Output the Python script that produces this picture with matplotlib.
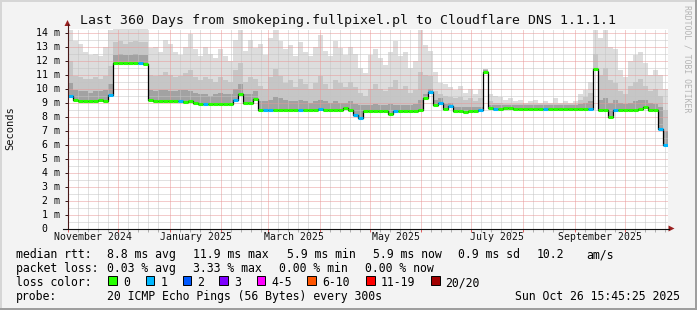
import matplotlib
matplotlib.use("Agg")
import matplotlib.pyplot as plt
import matplotlib.dates as mdates
from matplotlib.patches import Polygon, Rectangle
from matplotlib.lines import Line2D
from datetime import datetime, timedelta
import numpy as np

plt.rcParams['font.family'] = ['DejaVu Sans Mono']

W, H, DPI = 697, 310, 100

# ---------------- data ----------------
title = "Last 360 Days from smokeping.fullpixel.pl to Cloudflare DNS 1.1.1.1"
start = datetime(2024, 10, 31, 15, 45, 25)
end = datetime(2025, 10, 26, 15, 45, 25)
bin_days = 3

median_ms = [9.45, 9.15, 9.1, 9.1, 9.1, 9.1, 9.2, 9.1, 9.55,
             11.8, 11.8, 11.8, 11.8, 11.8, 11.8, 11.75,
             9.15,
             9.1, 9.1, 9.1, 9.1, 9.1, 9.1, 9.05, 9.1, 9.0,
             8.9, 8.9, 8.9, 8.9, 8.9, 8.9, 8.9, 9.2,
             9.6, 8.95, 8.95, 9.25,
             8.45, 8.45, 8.45, 8.5, 8.5, 8.5, 8.45, 8.45, 8.45, 8.45, 8.45, 8.45, 8.55, 8.5, 8.45, 8.45, 8.45, 8.6, 8.45,
             8.1, 7.9, 8.4, 8.4, 8.4, 8.4, 8.4, 8.2, 8.4, 8.4, 8.4, 8.4, 8.4, 8.45,
             9.3, 9.75, 8.85, 8.95, 8.55, 8.75,
             8.4, 8.4, 8.35, 8.4, 8.4, 8.45,
             11.2,
             8.6, 8.55, 8.55, 8.6, 8.6, 8.55, 8.55, 8.55, 8.55, 8.55, 8.55, 8.55, 8.55, 8.55, 8.55, 8.55, 8.55, 8.55,
             8.55, 8.55, 8.55,
             11.4,
             8.5, 8.5, 8.0, 8.45, 8.5, 8.5, 8.5, 8.5, 8.55, 8.65, 8.5, 8.5,
             7.1, 5.95]

smoke_top = [14.2, 13.4, 13.2, 12.6, 12.4, 12.5, 12.3, 13.0, 14.2,
             14.3, 14.3, 14.3, 14.3, 14.3, 14.3, 14.3,
             12.9,
             13.0, 12.6, 13.5, 13.2, 12.6, 12.4, 13.0, 13.9, 12.8,
             12.3, 13.0, 12.5, 12.2, 12.8, 12.3, 12.0, 13.5,
             14.2, 12.7, 13.5, 12.9,
             13.2, 12.4, 13.6, 14.2, 13.4, 12.8, 13.1, 12.3, 13.3, 12.6, 12.3, 13.0, 13.8, 12.7, 12.3, 13.4, 12.9, 12.4, 13.0,
             12.5, 11.5, 11.1, 12.4, 12.8, 12.2, 11.7, 12.6, 13.4, 12.3, 12.6, 11.5, 12.0, 14.2,
             13.1, 12.7, 11.2, 10.4, 10.3, 10.1,
             9.9, 10.2, 9.7, 10.0, 9.6, 10.0,
             11.4,
             9.6, 9.5, 9.4, 9.2, 9.3, 9.1, 9.2, 9.0, 9.1, 9.2, 9.0, 9.1, 9.0, 9.3, 9.0, 9.1, 9.0, 9.1,
             9.6, 9.9, 10.5,
             14.2,
             13.6, 14.2, 13.0, 12.8, 11.3, 10.8, 12.0, 12.4, 12.6, 11.8, 11.0, 11.3,
             11.0, 10.0]

smoke_mid = [12.0, 10.9, 10.8, 10.7, 10.7, 10.8, 10.7, 10.9, 11.6,
             13.3, 13.4, 13.2, 13.3, 13.4, 13.3, 13.3,
             11.0,
             10.9, 11.0, 11.2, 11.0, 10.8, 10.9, 11.1, 11.3, 10.8,
             10.6, 10.8, 10.7, 10.5, 10.8, 10.6, 10.5, 11.3,
             11.8, 10.5, 10.8, 10.7,
             10.2, 10.0, 10.8, 11.4, 10.9, 10.4, 10.6, 10.1, 10.7, 10.3, 10.0, 10.4, 10.9, 10.3, 10.0, 10.6, 10.4, 10.1, 10.5,
             10.1, 9.7, 9.5, 10.0, 10.3, 10.0, 9.8, 10.1, 10.6, 10.0, 10.2, 9.7, 9.9, 11.2,
             11.0, 10.9, 9.8, 9.6, 9.5, 9.4,
             9.3, 9.4, 9.2, 9.3, 9.1, 9.3,
             11.4,
             9.1, 9.0, 9.0, 8.9, 8.9, 8.9, 8.9, 8.9, 8.9, 8.9, 8.9, 8.9, 8.9, 8.9, 8.9, 8.9, 8.9, 8.9,
             9.2, 9.4, 9.7,
             12.5,
             11.0, 11.5, 10.6, 10.4, 9.8, 9.6, 10.2, 10.5, 10.7, 10.2, 9.8, 10.0,
             9.5, 8.5]

smoke_dark = [10.4, 9.9, 9.8, 9.8, 9.7, 9.8, 9.8, 9.9, 10.3,
              12.4, 12.5, 12.4, 12.4, 12.5, 12.4, 12.4,
              9.9,
              9.8, 9.9, 9.9, 9.8, 9.8, 9.9, 9.9, 9.8, 9.7,
              9.6, 9.6, 9.5, 9.6, 9.7, 9.6, 9.6, 10.0,
              10.3, 9.6, 9.6, 9.8,
              9.1, 9.1, 9.2, 9.4, 9.3, 9.2, 9.1, 9.1, 9.2, 9.1, 9.0, 9.1, 9.2, 9.1, 9.0, 9.1, 9.0, 9.0, 9.1,
              8.9, 8.8, 8.8, 8.8, 8.9, 8.8, 8.8, 8.9, 8.8, 8.8, 8.8, 8.8, 8.9, 9.2,
              9.6, 10.0, 9.2, 9.3, 8.9, 9.0,
              8.7, 8.7, 8.7, 8.7, 8.7, 8.7,
              11.3,
              8.8, 8.8, 8.8, 8.8, 8.8, 8.8, 8.8, 8.8, 8.8, 8.8, 8.8, 8.8, 8.8, 8.8, 8.8, 8.8, 8.8, 8.8,
              8.9, 9.0, 9.1,
              11.5,
              9.2, 9.3, 9.0, 9.2, 9.0, 8.9, 9.0, 9.1, 9.2, 9.2, 9.0, 8.9,
              8.7, 7.0]

# loss class per bin (index into loss legend)
loss_cls = [1, 0, 0, 0, 0, 0, 0, 0, 1,
            0, 0, 0, 0, 0, 1, 0,
            0,
            0, 0, 0, 0, 0, 1, 0, 0, 0,
            0, 1, 0, 0, 0, 0, 0, 1,
            0, 0, 0, 0,
            0, 1, 1, 0, 0, 0, 0, 0, 1, 0, 0, 0, 1, 0, 0, 0, 0, 0, 0,
            1, 1, 0, 0, 0, 0, 0, 0, 1, 0, 0, 0, 0, 0,
            0, 1, 0, 1, 0, 1,
            0, 0, 0, 0, 0, 1,
            0,
            0, 1, 0, 0, 0, 0, 0, 0, 0, 0, 0, 1, 0, 0, 0, 0, 0, 0,
            0, 0, 1,
            0,
            0, 0, 0, 1, 0, 0, 0, 0, 0, 0, 0, 0,
            1, 1]

y_ticks = list(range(15))
y_labels = ["0  "] + [f"{i} m" for i in range(1, 15)]
month_labels = ["November 2024", "January 2025", "March 2025",
                "May 2025", "July 2025", "September 2025"]
month_label_months = [(2024, 11), (2025, 1), (2025, 3), (2025, 5), (2025, 7), (2025, 9)]

loss_legend_labels = ["0", "1", "2", "3", "4-5", "6-10", "11-19", "20/20"]
loss_legend_colors = ["#26ff00", "#00b8ff", "#0059ff", "#7e00ff",
                      "#ff00ff", "#ff5500", "#ff0000", "#a10000"]

rtt_stats = ["8.8 ms avg", "11.9 ms max", "5.9 ms min", "5.9 ms now", "0.9 ms sd", "10.2", "am/s"]
loss_stats = ["0.03 % avg", "3.33 % max", "0.00 % min", "0.00 % now"]
probe_text = "20 ICMP Echo Pings (56 Bytes) every 300s"
stamp = "Sun Oct 26 15:45:25 2025"

# ---------------- layout helpers ----------------
def fx(x):
    return x / W

def fy(y):
    return 1 - y / H

fig = plt.figure(figsize=(W / DPI, H / DPI), dpi=DPI)
fig.patch.set_facecolor("#f3f3f3")

# frame shading
fig.add_artist(Rectangle((0, fy(2)), 1, 2 / H, color="#d6d6d6", lw=0))
fig.add_artist(Rectangle((0, 0), 2 / W, 1, color="#d6d6d6", lw=0))
fig.add_artist(Rectangle((0, 0), 1, 2 / H, color="#9e9e9e", lw=0))
fig.add_artist(Rectangle((1 - 2 / W, 0), 2 / W, 1, color="#9e9e9e", lw=0))

# plot area: 600 x 200 px, 14 px per ms
ax = fig.add_axes([fx(67.5), fy(228.5), 600 / W, 200 / H])
ax.set_facecolor("white")
for s in ax.spines.values():
    s.set_visible(False)

n = len(median_ms)
edges = [start + timedelta(days=bin_days * i) for i in range(n + 1)]
xe = mdates.date2num(edges)

def ext(a):
    return list(a) + [a[-1]]

med = ext(median_ms)
ax.fill_between(xe, med, ext(smoke_top), step='post', color='#dddddd', lw=0, zorder=1)
ax.fill_between(xe, med, ext(smoke_mid), step='post', color='#c6c6c6', lw=0, zorder=1.1)
ax.fill_between(xe, med, ext(smoke_dark), step='post', color='#a2a2a2', lw=0, zorder=1.2)

# grid (dotted)
dot = (0, (1, 1))
gkw = dict(lw=0.72, ls=dot)
for v in np.arange(0.5, 14.5, 1.0):
    ax.axhline(v, color='#c4c4c4', zorder=2, **gkw)
for v in range(1, 15):
    ax.axhline(v, color='#e89898', zorder=2.1, **gkw)

month_starts = []
minor_days = []
y, m = 2024, 10
while True:
    for d in (1, 7, 13, 19, 25):
        t = datetime(y, m, d)
        if start <= t <= end:
            (month_starts if d == 1 else minor_days).append(t)
    m += 1
    if m > 12:
        m, y = 1, y + 1
    if datetime(y, m, 1) > end:
        break
ms_num = mdates.date2num(month_starts)
mi_num = mdates.date2num(minor_days)
for v in mi_num:
    ax.axvline(v, color='#c4c4c4', zorder=2, **gkw)
for v in ms_num:
    ax.axvline(v, color='#e89898', zorder=2.1, **gkw)

# median line
ax.step(xe, med, where='post', color='black', lw=0.9, zorder=3)
ax.hlines(median_ms, xe[:-1], xe[1:], colors=[loss_legend_colors[c] for c in loss_cls],
          lw=2.2, zorder=4, capstyle='butt')

ax.set_xlim(xe[0], xe[-1])
ax.set_ylim(0, 200 / 14)

ax.set_yticks(y_ticks, y_labels, fontsize=7.1)
ax.tick_params(axis='y', length=2.2, width=0.72, color='#3a1a1a', pad=2.9)
ax.set_xticks(ms_num)
ax.set_xticklabels([])
ax.set_xticks(mi_num, minor=True)
ax.tick_params(axis='x', which='major', length=2.2, width=0.72, color='#e06060')
ax.tick_params(axis='x', which='minor', length=2.0, width=0.72, color='#b0b0b0')
ax.tick_params(axis='y', which='minor', length=0)

for lab, (yy, mm) in zip(month_labels, month_label_months):
    a = datetime(yy, mm, 1)
    b = datetime(yy + (mm // 12), mm % 12 + 1, 1)
    mid = (mdates.date2num(a) + mdates.date2num(b)) / 2
    ax.text(mid, -12 / 200, lab, transform=ax.get_xaxis_transform(), ha='center',
            va='baseline', fontsize=7.1, color='#111111')

# axes lines and arrows
fig.add_artist(Line2D([fx(67.5), fx(67.5)], [fy(228.5), fy(24)], color='#4a1818', lw=0.8))
fig.add_artist(Line2D([fx(63), fx(669)], [fy(228.5), fy(228.5)], color='#111111', lw=0.8))
fig.add_artist(Polygon([(fx(67.5), fy(20)), (fx(64.5), fy(26)), (fx(70.5), fy(26))],
                       closed=True, color='#9a2020', lw=0))
fig.add_artist(Polygon([(fx(674.5), fy(228.5)), (fx(668.5), fy(225.5)), (fx(668.5), fy(231.5))],
                       closed=True, color='#9a2020', lw=0))

# texts
fig.text(fx(348.5), fy(24), title, ha='center', va='baseline', fontsize=9.5, color='#111111')
fig.text(fx(10), fy(128), "Seconds", rotation=90, ha='center', va='center', fontsize=7.5,
         color='#111111')
fig.text(fx(687), fy(5), "RRDTOOL / TOBI OETIKER", rotation=270, ha='center', va='top',
         fontsize=5.9, color='#b4b4b4')

lfs = 8.3
fig.text(fx(16), fy(258), "median rtt:", ha='left', va='baseline', fontsize=lfs)
for s, x in zip(rtt_stats, [107, 193, 287, 372.7, 458, 537, 586]):
    fig.text(fx(x), fy(258), s, ha='left', va='baseline', fontsize=lfs)
fig.text(fx(16), fy(272), "packet loss:", ha='left', va='baseline', fontsize=lfs)
for s, x in zip(loss_stats, [107, 193, 279, 365]):
    fig.text(fx(x), fy(272), s, ha='left', va='baseline', fontsize=lfs)
fig.text(fx(16), fy(286), "loss color:", ha='left', va='baseline', fontsize=lfs)
for lab, col, x in zip(loss_legend_labels, loss_legend_colors,
                       [108.3, 145.7, 182.7, 219.3, 256.7, 307.3, 366, 431]):
    fig.add_artist(Rectangle((fx(x), fy(285)), 8.5 / W, 9 / H, facecolor=col,
                             edgecolor='black', lw=0.7))
    fig.text(fx(x + 14.5), fy(286), lab, ha='left', va='baseline', fontsize=lfs)
fig.text(fx(16), fy(300), "probe:", ha='left', va='baseline', fontsize=lfs)
fig.text(fx(107), fy(300), probe_text, ha='left', va='baseline', fontsize=lfs)
fig.text(fx(680), fy(300), stamp, ha='right', va='baseline', fontsize=lfs)

fig.savefig("out.png", dpi=DPI, facecolor=fig.get_facecolor())
